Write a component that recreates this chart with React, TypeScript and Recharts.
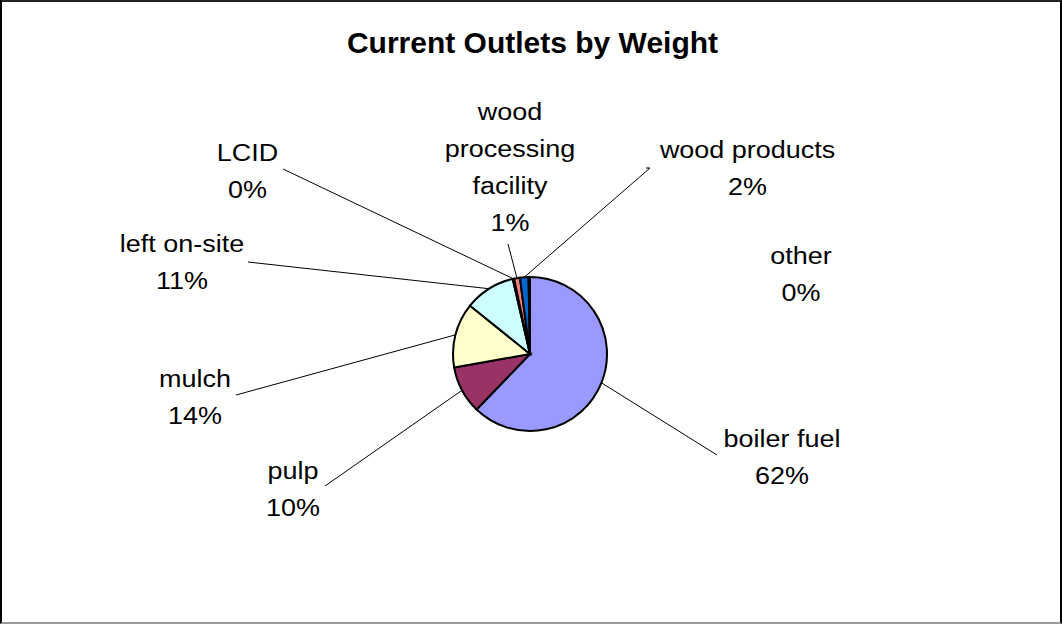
import { Cell, Pie, PieChart } from "recharts";

const outlets = ["boiler fuel", "pulp", "mulch", "left on-site", "LCID", "wood processing facility", "wood products", "other"];
const shares = [62.2, 10.0, 13.6, 10.6, 0.3, 1.2, 1.8, 0.3];
const colors = ["#9999FF", "#993366", "#FFFFCC", "#CCFFFF", "#660066", "#FF8080", "#0066CC", "#CCCCFF"];

const data = outlets.map((name, i) => ({ name, value: shares[i] }));

// label placement, offsets from the pie centre (text centre / first baseline, leader end)
type Place = { tx: number; ty: number; lx?: number; ly?: number; tick?: number; wrap?: boolean };
const places: Place[] = [
  { tx: 252, ty: 93, lx: 187, ly: 101 },
  { tx: -237, ty: 125, lx: -205, ly: 132 },
  { tx: -335, ty: 33, lx: -294, ly: 41 },
  { tx: -348, ty: -102, lx: -282, ly: -92 },
  { tx: -282.5, ty: -193, lx: -247, ly: -185 },
  { tx: -20, ty: -234, lx: -22, ly: -110, wrap: true },
  { tx: 217.5, ty: -196, lx: 120, ly: -186, tick: -4 },
  { tx: 271, ty: -90 },
];

const W = 1062;
const H = 624;
const CX = 530;
const CY = 354;
const R = 77;
const FONT = "'Liberation Sans', Arial, sans-serif";
const RAD = Math.PI / 180;

function renderLabel(props: any) {
  const { cx, cy, midAngle, outerRadius, percent, index, name } = props;
  const p = places[index];
  const lines = p.wrap ? String(name).split(" ") : [String(name)];
  lines.push(`${Math.round(percent * 100)}%`);
  const ex = cx + outerRadius * Math.cos(-midAngle * RAD);
  const ey = cy + outerRadius * Math.sin(-midAngle * RAD);
  const tx = cx + p.tx;
  const ty = cy + p.ty;
  return (
    <g key={`lbl-${index}`}>
      {p.lx !== undefined && p.ly !== undefined && (
        <polyline
          points={`${cx + p.lx + (p.tick ?? 0)},${cy + p.ly} ${cx + p.lx},${cy + p.ly} ${ex},${ey}`}
          fill="none"
          stroke="#000"
          strokeWidth={1}
        />
      )}
      <text transform={`translate(${tx},${ty}) scale(1.1,1)`} textAnchor="middle" fontFamily={FONT} fontSize={24.5} fill="#000">
        {lines.map((l, i) => (
          <tspan key={i} x={0} y={i * 37}>
            {l}
          </tspan>
        ))}
      </text>
    </g>
  );
}

export default function App() {
  return (
    <div style={{ position: "absolute", left: 0, top: 0, width: W, height: H, background: "#fff" }}>
      <div
        style={{
          position: "absolute",
          left: 0,
          top: 0,
          width: W,
          height: H,
          boxSizing: "border-box",
          borderLeft: "2px solid #000",
          borderRight: "2px solid #000",
          borderTop: "2px solid #222",
          borderBottom: "2px solid #999",
        }}
      />
      <svg width={W} height={80} style={{ position: "absolute", left: 0, top: 0 }}>
        <text x={532.5} y={53} textAnchor="middle" fontFamily={FONT} fontWeight="bold" fontSize={30} fill="#000">
          Current Outlets by Weight
        </text>
      </svg>
      <div style={{ position: "absolute", left: 0, top: 0 }}>
        <PieChart width={W} height={H} margin={{ top: 0, right: 0, bottom: 0, left: 0 }}>
          <Pie
            data={data}
            dataKey="value"
            nameKey="name"
            cx={CX}
            cy={CY}
            outerRadius={R}
            startAngle={90}
            endAngle={-270}
            stroke="#000"
            strokeWidth={2}
            label={renderLabel}
            labelLine={false}
            isAnimationActive={false}
          >
            {data.map((d, i) => (
              <Cell key={d.name} fill={colors[i]} />
            ))}
          </Pie>
        </PieChart>
      </div>
    </div>
  );
}
